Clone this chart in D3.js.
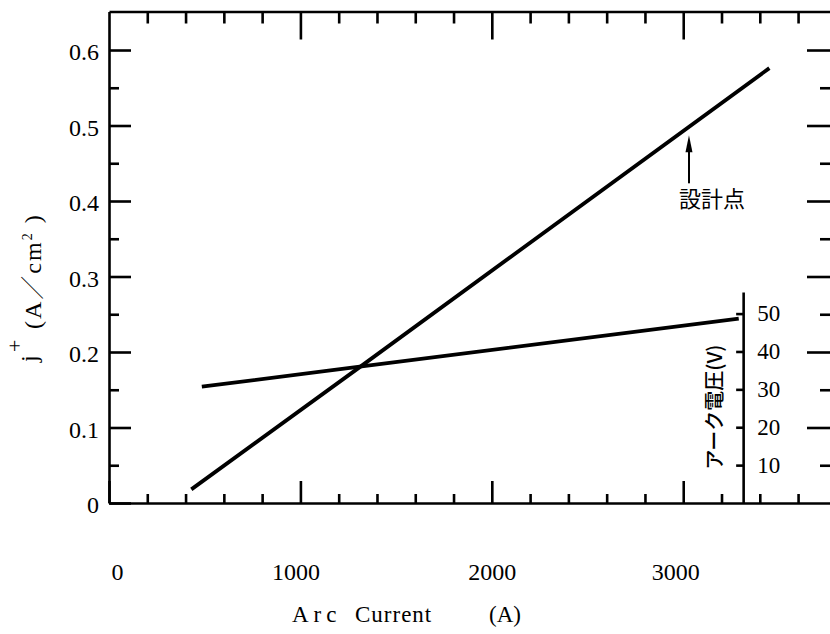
<!DOCTYPE html>
<html>
<head>
<meta charset="utf-8">
<script src="https://cdn.jsdelivr.net/npm/d3@7"></script>
<style>
    body { margin: 0; background: #fff; }
    svg { display: block; }
    .axis path, .axis line { stroke: #000; stroke-width: 2.6; }
    .axis text { fill: #000; }
</style>
</head>
<body>
<svg id="chart" width="830" height="634"></svg>
<script>
// ion current density j+ (A/cm2) against arc current (A)
var jCurrent = [430, 1310, 3450];
var jDensity = [0.018, 0.180, 0.576];

// arc voltage (V) against arc current (A)
var vCurrent = [485, 1310, 3290];
var vVoltage = [30.7, 36.0, 48.7];

// design point, marked with an arrow under the j+ line
var designPoint = [3030, 0.487];
var designLabel = "設計点";

// ticks and labels
var xMajorTicks = [0, 1000, 2000, 3000];
var xMinorTicks = [200, 400, 600, 800, 1200, 1400, 1600, 1800, 2200, 2400, 2600, 2800, 3200, 3400, 3600];
var jMajorTicks = [0, 0.1, 0.2, 0.3, 0.4, 0.5, 0.6];
var jMinorTicks = [0.05, 0.15, 0.25, 0.35, 0.45, 0.55];
var vTicks = [10, 20, 30, 40, 50];
var xTitle = ["Arc", "Current", "(A)"];
var vTitle = "アーク電圧(V)";

var SERIF = "'Liberation Serif', 'DejaVu Serif', serif";
var CJK = "'Noto Sans CJK JP', sans-serif";

var svg = d3.select("#chart");

var x = d3.scaleLinear().domain([0, 3772]).range([109, 831]);
var y = d3.scaleLinear().domain([0, 0.651]).range([503, 11.5]);
var v = d3.scaleLinear().domain([0, 55.7]).range([503, 292]);

// draws one axis, strips the domain line if asked
function drawAxis(axis, transform, keepDomain) {
    var g = svg.append("g")
        .attr("class", "axis")
        .attr("transform", transform)
        .call(axis);
    g.attr("font-family", SERIF);
    if (!keepDomain) g.select(".domain").remove();
    return g;
}

// left: j+ scale with labels
var left = drawAxis(d3.axisLeft(y)
        .tickValues(jMajorTicks)
        .tickSizeInner(-22).tickSizeOuter(0).tickPadding(10)
        .tickFormat(function(d) { return d === 0 ? "0" : d3.format(".1f")(d); }),
    "translate(109,0)", true);
left.selectAll("text")
    .attr("font-family", SERIF)
    .attr("font-size", 24)
    .attr("dy", "0.4em");
drawAxis(d3.axisLeft(y).tickValues(jMinorTicks).tickSize(-10).tickFormat(""), "translate(109,0)");

// right: ticks only, frame edge sits just off the picture
drawAxis(d3.axisRight(y).tickValues(jMajorTicks.slice(1)).tickSizeInner(-24).tickSizeOuter(0).tickFormat(""),
    "translate(831,0)", true);
drawAxis(d3.axisRight(y).tickValues(jMinorTicks).tickSize(-11).tickFormat(""), "translate(831,0)");

// bottom: arc current
var bottom = drawAxis(d3.axisBottom(x)
        .tickValues(xMajorTicks)
        .tickSizeInner(-22).tickSizeOuter(0).tickPadding(60)
        .tickFormat(d3.format("d")),
    "translate(0,503)", true);
bottom.selectAll("text")
    .attr("font-family", SERIF)
    .attr("font-size", 24)
    .attr("dx", function(d) { return d === 0 ? 8 : (d === 3000 ? -8 : (d === 1000 ? -5 : 0)); });
drawAxis(d3.axisBottom(x).tickValues(xMinorTicks).tickSize(-9).tickFormat(""), "translate(0,503)");

// top: ticks only
drawAxis(d3.axisTop(x).tickValues(xMajorTicks.slice(1)).tickSizeInner(-28).tickSizeOuter(0).tickFormat(""),
    "translate(0,11.5)", true);
drawAxis(d3.axisTop(x).tickValues(xMinorTicks).tickSize(-12).tickFormat(""), "translate(0,11.5)");

// inner voltage scale, ticks point left, labels on the right
var vAxis = drawAxis(d3.axisRight(v)
        .tickValues(vTicks)
        .tickSizeInner(-7).tickSizeOuter(0).tickPadding(14),
    "translate(" + x(3313) + ",0)", true);
vAxis.selectAll("text")
    .attr("font-family", SERIF)
    .attr("font-size", 23);

svg.append("text")
    .attr("transform", "translate(722,407) rotate(-90)")
    .attr("text-anchor", "middle")
    .attr("font-family", CJK)
    .attr("font-size", 20)
    .attr("font-weight", 500)
    .text(vTitle);

// data lines
var jLine = d3.line()
    .x(function(d) { return x(d[0]); })
    .y(function(d) { return y(d[1]); });
var vLine = d3.line()
    .x(function(d) { return x(d[0]); })
    .y(function(d) { return v(d[1]); });

svg.append("path")
    .datum(d3.zip(jCurrent, jDensity))
    .attr("d", jLine)
    .attr("fill", "none")
    .attr("stroke", "#000")
    .attr("stroke-width", 3.8);

svg.append("path")
    .datum(d3.zip(vCurrent, vVoltage))
    .attr("d", vLine)
    .attr("fill", "none")
    .attr("stroke", "#000")
    .attr("stroke-width", 3.8);

// design point arrow
var tx = x(designPoint[0]), ty = y(designPoint[1]);
svg.append("line")
    .attr("x1", tx).attr("y1", ty + 12)
    .attr("x2", tx).attr("y2", ty + 48)
    .attr("stroke", "#000")
    .attr("stroke-width", 2);
svg.append("path")
    .attr("d", "M" + tx + "," + ty + "L" + (tx - 3.5) + "," + (ty + 17) + "L" + (tx + 3.5) + "," + (ty + 17) + "Z")
    .attr("fill", "#000");
svg.append("text")
    .attr("x", tx - 10)
    .attr("y", ty + 72)
    .attr("font-family", CJK)
    .attr("font-size", 22)
    .text(designLabel);

// x title
var xt = svg.append("text")
    .attr("y", 622)
    .attr("font-family", SERIF)
    .attr("font-size", 23);
xt.append("tspan").attr("x", 292).attr("letter-spacing", 5).text(xTitle[0]);
xt.append("tspan").attr("x", 355).attr("letter-spacing", 1).text(xTitle[1]);
xt.append("tspan").attr("x", 489).text(xTitle[2]);

// y title, rotated
var yt = svg.append("g")
    .attr("transform", "rotate(-90)")
    .attr("font-family", SERIF);
yt.append("text").attr("x", -362).attr("y", 37).attr("font-size", 24).text("j");
yt.append("text").attr("x", -352).attr("y", 22).attr("font-size", 22).text("+");
var unit = yt.append("text")
    .attr("x", -329).attr("y", 41)
    .attr("font-size", 24)
    .attr("letter-spacing", 2);
unit.append("tspan").text("(A");
unit.append("tspan").attr("font-family", CJK).attr("font-weight", 300).text("／");
unit.append("tspan").text("cm");
unit.append("tspan").attr("dy", -9).attr("font-size", 14).text("2");
unit.append("tspan").attr("dy", 9).text(" )");
</script>
</body>
</html>
